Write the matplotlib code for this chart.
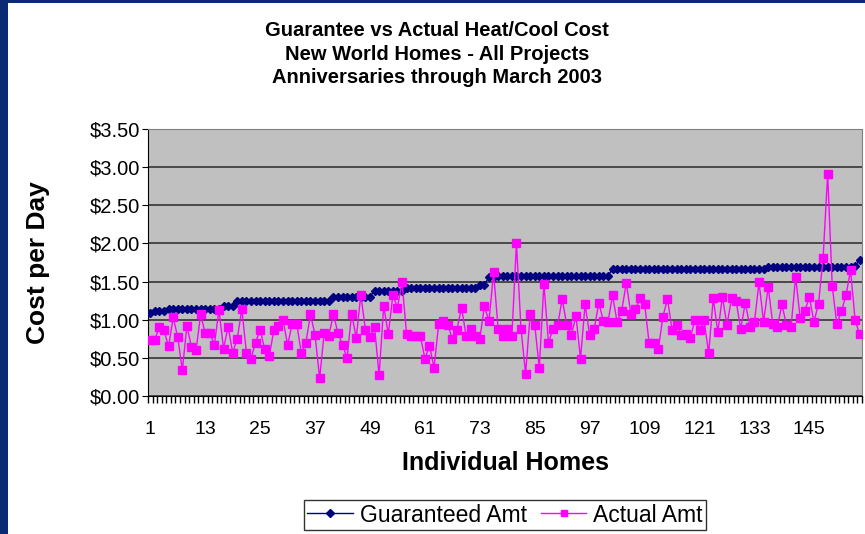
import matplotlib.pyplot as plt
import numpy as np
from matplotlib.patches import Rectangle
from matplotlib.ticker import FixedLocator, FuncFormatter

plt.rcParams['font.family'] = ['Liberation Sans', 'DejaVu Sans']

# Guaranteed heat/cool cost per day, by home
guaranteed = [
    1.09, 1.11, 1.12, 1.12, 1.14, 1.14, 1.14, 1.14, 1.14, 1.14,
    1.14, 1.14, 1.14, 1.14, 1.14, 1.14, 1.18, 1.18, 1.18, 1.25,
    1.25, 1.25, 1.25, 1.25, 1.25, 1.25, 1.25, 1.25, 1.25, 1.25,
    1.25, 1.25, 1.25, 1.25, 1.25, 1.25, 1.25, 1.25, 1.25, 1.25,
    1.30, 1.30, 1.30, 1.30, 1.30, 1.30, 1.30, 1.30, 1.30, 1.38,
    1.38, 1.38, 1.38, 1.38, 1.38, 1.38, 1.41, 1.41, 1.41, 1.41,
    1.41, 1.41, 1.41, 1.41, 1.41, 1.41, 1.41, 1.41, 1.41, 1.41,
    1.41, 1.41, 1.45, 1.46, 1.56, 1.56, 1.57, 1.57, 1.57, 1.57,
    1.57, 1.57, 1.57, 1.57, 1.57, 1.57, 1.57, 1.57, 1.57, 1.57,
    1.57, 1.57, 1.57, 1.57, 1.57, 1.57, 1.57, 1.57, 1.57, 1.57,
    1.57, 1.67, 1.67, 1.67, 1.67, 1.67, 1.67, 1.67, 1.67, 1.67,
    1.67, 1.67, 1.67, 1.67, 1.67, 1.67, 1.67, 1.67, 1.67, 1.67,
    1.67, 1.67, 1.67, 1.67, 1.67, 1.67, 1.67, 1.67, 1.67, 1.67,
    1.67, 1.67, 1.67, 1.67, 1.67, 1.69, 1.69, 1.69, 1.69, 1.69,
    1.69, 1.69, 1.69, 1.69, 1.69, 1.69, 1.69, 1.69, 1.69, 1.69,
    1.69, 1.69, 1.69, 1.69, 1.71, 1.78,
]

# Actual heat/cool cost per day, by home
actual = [
    0.73, 0.74, 0.91, 0.86, 0.65, 1.03, 0.77, 0.34, 0.92, 0.64,
    0.60, 1.07, 0.82, 0.83, 0.67, 1.13, 0.62, 0.91, 0.57, 0.75,
    1.14, 0.57, 0.49, 0.70, 0.87, 0.61, 0.52, 0.87, 0.92, 1.00,
    0.67, 0.94, 0.95, 0.56, 0.70, 1.07, 0.80, 0.23, 0.83, 0.79,
    1.07, 0.83, 0.67, 0.50, 1.08, 0.76, 1.33, 0.87, 0.77, 0.90,
    0.27, 1.18, 0.81, 1.32, 1.16, 1.49, 0.81, 0.78, 0.79, 0.79,
    0.49, 0.66, 0.37, 0.94, 0.98, 0.93, 0.75, 0.87, 1.16, 0.79,
    0.88, 0.78, 0.75, 1.18, 0.98, 1.62, 0.88, 0.78, 0.88, 0.78,
    2.00, 0.88, 0.29, 1.07, 0.93, 0.37, 1.47, 0.70, 0.88, 0.93,
    1.27, 0.93, 0.80, 1.05, 0.49, 1.20, 0.80, 0.88, 1.22, 0.98,
    0.97, 1.32, 0.97, 1.12, 1.48, 1.08, 1.14, 1.28, 1.21, 0.69,
    0.69, 0.61, 1.04, 1.27, 0.87, 0.93, 0.80, 0.81, 0.76, 1.00,
    0.86, 0.99, 0.56, 1.28, 0.84, 1.30, 0.93, 1.28, 1.24, 0.88,
    1.22, 0.91, 0.97, 1.49, 0.97, 1.43, 0.95, 0.90, 1.20, 0.93,
    0.90, 1.56, 1.02, 1.11, 1.30, 0.97, 1.21, 1.81, 2.91, 1.44,
    0.94, 1.11, 1.32, 1.65, 0.99, 0.81,
]

homes = np.arange(1, len(actual) + 1)
label_homes = [1, 13, 25, 37, 49, 61, 73, 85, 97, 109, 121, 133, 145]

fig = plt.figure(figsize=(8.65, 5.34), dpi=100)

# Slide frame (dark blue strip on the left and top edges)
fig.patches.append(Rectangle((0, 0), 8 / 865, 1, transform=fig.transFigure,
                             facecolor='#0b2a74', edgecolor='none'))
fig.patches.append(Rectangle((0, 1 - 3 / 534), 1, 3 / 534, transform=fig.transFigure,
                             facecolor='#0b2a74', edgecolor='none'))

ax = fig.add_axes([148 / 865, 1 - 396 / 534, (862 - 148) / 865, (396 - 129) / 534])
ax.set_facecolor('#c0c0c0')

ax.plot(homes, guaranteed, color='#000080', marker='D', markersize=4.5,
        linewidth=1, label='Guaranteed Amt', zorder=3)
ax.plot(homes, actual, color='#ff00ff', marker='s', markersize=5.5,
        linewidth=1, label='Actual Amt', zorder=4)

ax.set_xlim(0.5, len(actual) + 0.5)
ax.set_ylim(0, 3.5)
ax.set_yticks(np.arange(0, 3.51, 0.5))
ax.yaxis.set_major_formatter(FuncFormatter(lambda v, p: f'${v:.2f}'))
ax.grid(axis='y', color='#404040', linewidth=1.3)
ax.set_axisbelow(True)

ax.xaxis.set_major_locator(FixedLocator(label_homes))
ax.xaxis.set_minor_locator(FixedLocator(np.arange(0.5, len(actual) + 1, 1)))
ax.tick_params(axis='x', which='major', length=0, labelsize=14, pad=18)
ax.tick_params(axis='x', which='minor', length=5, width=1, direction='out')
ax.tick_params(axis='y', length=4, labelsize=14.5, direction='out', pad=2)

for side in ['top', 'right']:
    ax.spines[side].set_color('#808080')
ax.spines['left'].set_color('black')
ax.spines['bottom'].set_color('black')

ax.set_xlabel('Individual Homes', fontsize=18, fontweight='bold', labelpad=9)
ax.set_ylabel('Cost per Day', fontsize=19, fontweight='bold', labelpad=28)

fig.text(0.505, 1 - 21 / 534, 'Guarantee vs Actual Heat/Cool Cost\nNew World Homes - All Projects\nAnniversaries through March 2003',
         ha='center', va='top', fontsize=14.5, fontweight='bold', linespacing=1.3)

leg = ax.legend(loc='center', bbox_to_anchor=(0.5, (396 - 515) / (396 - 129)),
                ncol=2, fontsize=16.5, frameon=True, fancybox=False,
                edgecolor='black', borderpad=0.15, handlelength=2.0,
                handletextpad=0.3, columnspacing=0.6, markerscale=0.8)
leg.get_frame().set_linewidth(1)

fig.savefig('out.png', dpi=100)
